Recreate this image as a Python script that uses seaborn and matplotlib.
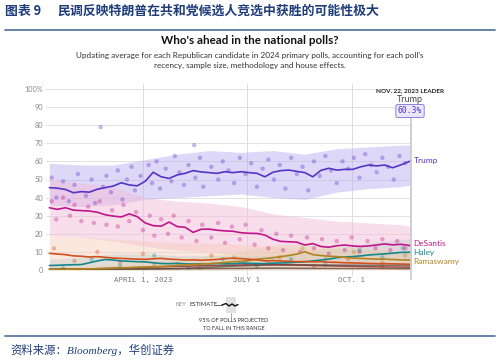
import matplotlib
matplotlib.use("Agg")
import matplotlib.pyplot as plt
from matplotlib.lines import Line2D
import seaborn as sns
import numpy as np
import pandas as pd

# ---------------- data ----------------
week_dates = pd.date_range("2023-01-09", "2023-11-20", freq="7D").append(pd.DatetimeIndex(["2023-11-22"]))

trump = [45.5, 45.2, 44.5, 42.7, 43.3, 43.0, 44.6, 45.5, 46.4, 48.2,
         47.0, 46.5, 49.0, 54.0, 51.5, 50.6, 52.5, 53.4, 54.9, 54.2,
         53.8, 53.4, 54.3, 53.8, 54.3, 53.8, 53.4, 51.5, 54.0, 54.9,
         55.2, 54.5, 53.8, 51.5, 55.0, 56.2, 55.2, 55.6, 55.6, 57.0,
         58.0, 57.5, 58.0, 56.5, 58.0, 59.8, 60.3]
desantis = [34.4, 33.5, 34.4, 33.1, 32.8, 32.6, 31.9, 30.5, 29.8, 29.3,
            31.0, 29.5, 26.0, 24.5, 24.2, 26.5, 24.0, 23.6, 20.8, 22.5,
            22.6, 22.0, 21.6, 21.4, 20.6, 20.3, 20.2, 19.3, 17.0, 15.8,
            15.6, 15.4, 13.8, 14.6, 13.0, 12.6, 13.4, 13.8, 13.3, 13.0,
            13.3, 13.8, 14.4, 13.9, 14.2, 13.6, 13.5]
haley = [2.5, 2.6, 2.8, 2.9, 3.0, 4.0, 5.0, 5.8, 5.5, 5.0,
         4.8, 4.6, 4.5, 4.0, 3.6, 3.5, 3.7, 3.4, 3.3, 3.5,
         3.4, 3.6, 3.4, 3.5, 3.8, 3.7, 3.6, 3.5, 3.8, 3.9,
         4.0, 4.3, 4.5, 5.0, 5.5, 6.0, 6.8, 7.2, 7.4, 7.8,
         8.3, 8.6, 8.9, 9.3, 9.7, 9.8, 9.9]
ramaswamy = [0.3, 0.3, 0.4, 0.5, 0.5, 0.6, 0.7, 0.8, 1.0, 1.2,
             1.3, 1.5, 1.6, 1.8, 2.0, 2.2, 2.5, 2.8, 3.0, 3.3,
             3.5, 3.8, 4.2, 4.6, 4.8, 5.2, 6.0, 6.3, 6.8, 7.4,
             8.0, 8.8, 10.1, 8.5, 8.0, 7.6, 7.4, 7.0, 6.6, 6.4,
             6.2, 6.0, 6.0, 5.8, 5.6, 5.5, 5.4]
pence = [9.2, 8.8, 8.5, 7.8, 7.6, 7.2, 7.4, 7.0, 6.6, 6.4,
         6.2, 6.0, 5.9, 6.2, 6.4, 6.0, 5.8, 5.5, 5.6, 5.4,
         5.6, 5.8, 6.3, 6.5, 6.3, 6.0, 5.6, 5.0, 5.2, 5.0,
         4.8, 4.6, 4.7, 4.5, 4.6, 4.3, 4.2, 4.0, 3.9, 3.8,
         3.6, 3.5, 3.5, 3.4, 3.3, 3.2, 3.2]

coarse_dates = pd.to_datetime(["2023-01-09", "2023-02-06", "2023-03-06", "2023-04-03",
                               "2023-05-01", "2023-05-29", "2023-06-26", "2023-07-24",
                               "2023-08-21", "2023-09-18", "2023-10-16", "2023-11-13",
                               "2023-11-22"])
christie = [0.2, 0.2, 0.3, 0.5, 0.8, 1.5, 2.3, 2.8, 2.9, 2.7, 2.6, 2.6, 2.5]
scott = [0.3, 0.5, 1.0, 1.5, 2.0, 2.4, 2.8, 3.0, 2.6, 2.2, 1.8, 1.6, 1.5]
others = [0.5, 0.5, 0.6, 0.7, 0.7, 0.8, 0.9, 1.0, 0.9, 0.8, 0.8, 0.7, 0.7]

# 95% bands (low / high) at the coarse dates
trump_lo = [36, 35, 36, 39, 40, 41, 42, 40, 39, 43, 45, 46, 47]
trump_hi = [59, 58, 58, 61, 64, 66, 65, 66, 64, 67, 68, 69, 69]
desantis_lo = [19, 18, 16, 13, 11, 10, 8, 6, 5, 4, 4, 4, 4]
desantis_hi = [50, 48, 46, 40, 38, 37, 35, 31, 29, 27, 26, 25, 24]
pence_lo = [0, 0, 0, 0, 0, 0, 0, 0, 0, 0, 0, 0, 0]
pence_hi = [19, 18, 17, 16, 15, 15, 14, 13, 12, 12, 11, 10, 10]
haley_lo = [0, 0, 0, 0, 0, 0, 0, 0, 0, 1, 2, 3, 3]
haley_hi = [6, 7, 9, 9, 8, 8, 8, 8, 10, 12, 15, 17, 17]
rama_lo = [0, 0, 0, 0, 0, 0, 0, 1, 1, 1, 1, 1, 1]
rama_hi = [2, 2, 3, 5, 6, 8, 10, 14, 15, 13, 12, 11, 11]

# individual polls (day of 2023, value)
trump_poll_day = [10, 14, 20, 25, 30, 33, 40, 45, 48, 55, 58, 62, 68, 72, 76, 80, 83, 88,
                  95, 98, 102, 105, 110, 115, 118, 122, 126, 130, 136, 140, 143, 150, 156,
                  160, 165, 170, 175, 180, 185, 190, 195, 200, 205, 210, 215, 220, 225,
                  230, 235, 240, 245, 250, 255, 260, 265, 270, 275, 280, 285, 290, 295,
                  300, 305, 310, 315, 320, 53, 135]
trump_poll_val = [51, 40, 49, 38, 47, 53, 41, 50, 37, 46, 52, 43, 55, 39, 50, 57, 44, 52,
                  58, 48, 60, 45, 56, 49, 63, 54, 47, 58, 51, 62, 46, 57, 50,
                  60, 55, 48, 62, 53, 59, 46, 56, 61, 50, 58, 45, 62, 53,
                  57, 44, 60, 52, 63, 55, 48, 60, 56, 62, 51, 64, 58, 54,
                  62, 57, 50, 63, 59, 79, 69]
desantis_poll_day = [10, 14, 20, 26, 30, 36, 42, 47, 52, 58, 63, 68, 73, 78, 84, 90, 96,
                     100, 106, 112, 117, 124, 130, 137, 142, 150, 156, 162, 168, 175, 180,
                     188, 194, 200, 207, 213, 220, 228, 234, 240, 247, 253, 260, 267, 273,
                     280, 287, 294, 300, 307, 313, 320]
desantis_poll_val = [38, 28, 40, 30, 36, 27, 35, 26, 38, 25, 33, 24, 36, 27, 32, 22, 30,
                     19, 28, 20, 30, 18, 27, 16, 25, 18, 26, 15, 24, 17, 25,
                     14, 22, 12, 20, 11, 19, 10, 18, 12, 17, 9, 16, 11, 18,
                     10, 16, 12, 17, 11, 16, 12]
pence_poll_day = [12, 30, 50, 70, 90, 120, 150, 180, 210, 240, 270, 300]
pence_poll_val = [12, 5, 10, 4, 9, 3, 8, 4, 7, 2, 6, 2]
haley_poll_day = [20, 45, 70, 100, 130, 160, 190, 220, 250, 280, 300, 318]
haley_poll_val = [1, 6, 2, 8, 1, 6, 2, 6, 3, 11, 7, 12]
rama_poll_day = [100, 140, 170, 200, 230, 250, 275, 300, 320]
rama_poll_val = [3, 1, 7, 4, 12, 6, 10, 4, 8]

y_ticks = [0, 10, 20, 30, 40, 50, 60, 70, 80, 90, 100]
y_labels = ["0", "10", "20", "30", "40", "50", "60", "70", "80", "90", "100%"]
x_ticks = pd.to_datetime(["2023-04-01", "2023-07-01", "2023-10-01"])
x_labels = ["APRIL 1, 2023", "JULY 1", "OCT. 1"]

colors = {"Trump": "#5435c4", "DeSantis": "#c0168a", "Haley": "#16868c",
          "Ramaswamy": "#b08420", "Pence": "#d2501e", "Christie": "#5e5a5a",
          "Scott": "#8a2a2a", "Others": "#6b4536"}
band_colors = {"Trump": "#b6a9f0", "DeSantis": "#f3bcd8", "Pence": "#f6cdb8",
               "Haley": "#b8c8c8", "Ramaswamy": "#e4d2a8"}

# ---------------- figure ----------------
sns.set_theme(style="white")
plt.rcParams["font.family"] = ["Lato", "DejaVu Sans"]

fig = plt.figure(figsize=(5, 3.62), dpi=100)
ax = fig.add_axes([46 / 500, 1 - 270 / 362, 366 / 500, 181 / 362])

start = pd.Timestamp("2023-01-01")
to_dates = lambda days: start + pd.to_timedelta(days, unit="D")

# bands
for name, lo, hi, a in [("Trump", trump_lo, trump_hi, 0.45),
                        ("DeSantis", desantis_lo, desantis_hi, 0.5),
                        ("Pence", pence_lo, pence_hi, 0.45),
                        ("Haley", haley_lo, haley_hi, 0.35),
                        ("Ramaswamy", rama_lo, rama_hi, 0.35)]:
    ax.fill_between(coarse_dates, lo, hi, color=band_colors[name],
                    alpha=a, lw=0, zorder=1)

# poll dots
polls = pd.concat([
    pd.DataFrame({"date": to_dates(trump_poll_day), "value": trump_poll_val, "cand": "Trump"}),
    pd.DataFrame({"date": to_dates(desantis_poll_day), "value": desantis_poll_val, "cand": "DeSantis"}),
    pd.DataFrame({"date": to_dates(pence_poll_day), "value": pence_poll_val, "cand": "Pence"}),
    pd.DataFrame({"date": to_dates(haley_poll_day), "value": haley_poll_val, "cand": "Haley"}),
    pd.DataFrame({"date": to_dates(rama_poll_day), "value": rama_poll_val, "cand": "Ramaswamy"}),
])
sns.scatterplot(data=polls, x="date", y="value", hue="cand", palette=colors,
                s=10, alpha=0.35, linewidth=0, legend=False, ax=ax, zorder=2)

# estimate lines
weekly = pd.DataFrame({"date": np.tile(week_dates, 5),
                       "value": trump + desantis + haley + ramaswamy + pence,
                       "cand": np.repeat(["Trump", "DeSantis", "Haley", "Ramaswamy", "Pence"],
                                         len(week_dates))})
coarse = pd.DataFrame({"date": np.tile(coarse_dates, 3),
                       "value": christie + scott + others,
                       "cand": np.repeat(["Christie", "Scott", "Others"], len(coarse_dates))})
sns.lineplot(data=coarse, x="date", y="value", hue="cand", palette=colors,
             lw=1.1, alpha=0.8, legend=False, ax=ax, zorder=3)
sns.lineplot(data=weekly, x="date", y="value", hue="cand", palette=colors,
             lw=1.2, legend=False, ax=ax, zorder=4)

# axes styling
ax.set_xlim(pd.Timestamp("2023-01-06"), pd.Timestamp("2023-11-23"))
ax.set_ylim(0, 100)
ax.set_yticks(y_ticks)
ax.set_yticklabels(y_labels, fontsize=5.3, color="#888888")
ax.set_xticks(x_ticks)
ax.set_xticklabels(x_labels, fontsize=5.3, color="#777777", family="DejaVu Sans Mono")
ax.tick_params(length=0, pad=2)
ax.tick_params(axis="x", pad=5)
ax.set_xlabel("")
ax.set_ylabel("")
for s in ax.spines.values():
    s.set_visible(False)
for yv in y_ticks:
    ax.axhline(yv, color="#e2e2e2", lw=0.7, zorder=0)
for xv in x_ticks:
    ax.axvline(xv, ymin=-0.03, ymax=1.03, color="#dddddd", lw=0.7, zorder=0, clip_on=False)
ax.axvline(pd.Timestamp("2023-11-22"), ymin=-0.05, ymax=0.84, color="#cccccc", lw=1.3,
           zorder=5, clip_on=False)

# right-side labels
end = pd.Timestamp("2023-11-22")
for name, yv in [("Trump", 60.3), ("DeSantis", 14.9), ("Haley", 9.7), ("Ramaswamy", 4.9)]:
    ax.annotate(name, (end, yv), xytext=(2, 0), textcoords="offset points",
                fontsize=6.0, color=colors[name], va="center", ha="left", annotation_clip=False)

# leader annotation
fig.text(410 / 500, 1 - 91 / 362, "NOV. 22, 2023 LEADER", fontsize=4.6, weight="bold",
         ha="center", va="center", color="#222222")
fig.text(410 / 500, 1 - 100 / 362, "Trump", fontsize=6.5, ha="center", va="center",
         color="#444444")
fig.text(410 / 500, 1 - 111 / 362, "60.3%", fontsize=5.8, ha="center", va="center",
         color="#5435c4", family="DejaVu Sans Mono",
         bbox=dict(boxstyle="round,pad=0.25", fc="#ebe7fb", ec="#8f80e0", lw=0.7))

# titles
fig.text(5 / 500, 1 - 11 / 362, "图表 9", fontsize=9.3, weight="bold", color="#1f3d7a",
         family=["Noto Sans CJK SC", "DejaVu Sans"], va="center")
fig.text(57 / 500, 1 - 11 / 362, "民调反映特朗普在共和党候选人竞选中获胜的可能性极大", fontsize=9.3,
         weight="bold", color="#1f3d7a", family=["Noto Sans CJK SC", "DejaVu Sans"], va="center")
fig.add_artist(Line2D([5 / 500, 495 / 500], [1 - 29.5 / 362] * 2, color="#5b7aa3", lw=1.3))
fig.text(0.5, 1 - 40 / 362, "Who's ahead in the national polls?", fontsize=8.4, weight="bold",
         ha="center", va="center", color="#111111")
fig.text(0.5, 1 - 55 / 362, "Updating average for each Republican candidate in 2024 primary polls, accounting for each poll's",
         fontsize=5.9, ha="center", va="center", color="#333333")
fig.text(0.5, 1 - 65 / 362, "recency, sample size, methodology and house effects.",
         fontsize=5.9, ha="center", va="center", color="#333333")

# key
fig.text(176 / 500, 1 - 305 / 362, "KEY", fontsize=4.2, color="#888888", va="center")
fig.text(189 / 500, 1 - 305 / 362, "ESTIMATE", fontsize=4.2, color="#333333", va="center")
fig.add_artist(Line2D([215 / 500, 222 / 500], [1 - 305 / 362] * 2, color="#555555", lw=0.6))
fig.patches.append(plt.Rectangle((226 / 500, 1 - 313 / 362), 10 / 500, 16 / 362,
                                 transform=fig.transFigure, fc="#e2e2e2", ec="none", figure=fig))
fig.add_artist(Line2D([222 / 500, 226 / 500, 229 / 500, 232 / 500, 235 / 500, 238 / 500],
                      [1 - 305 / 362, 1 - 303.5 / 362, 1 - 306 / 362, 1 - 304 / 362,
                       1 - 306 / 362, 1 - 304.5 / 362], color="#111111", lw=1.0))
fig.add_artist(Line2D([231 / 500] * 2, [1 - 313 / 362, 1 - 318 / 362], color="#888888", lw=0.5))
fig.text(234 / 500, 1 - 321 / 362, "95% OF POLLS PROJECTED", fontsize=4.0, color="#333333",
         ha="center", va="center")
fig.text(234 / 500, 1 - 328 / 362, "TO FALL IN THIS RANGE", fontsize=4.0, color="#333333",
         ha="center", va="center")

# source
fig.add_artist(Line2D([5 / 500, 495 / 500], [1 - 335.5 / 362] * 2, color="#5b7aa3", lw=1.3))
fig.text(10 / 500, 1 - 350 / 362, "资料来源：Bloomberg，华创证券", fontsize=8.2, style="italic",
         color="#1f3d7a", family=["Liberation Serif", "Noto Sans CJK SC"], va="center")

fig.savefig("out.png", dpi=100)
